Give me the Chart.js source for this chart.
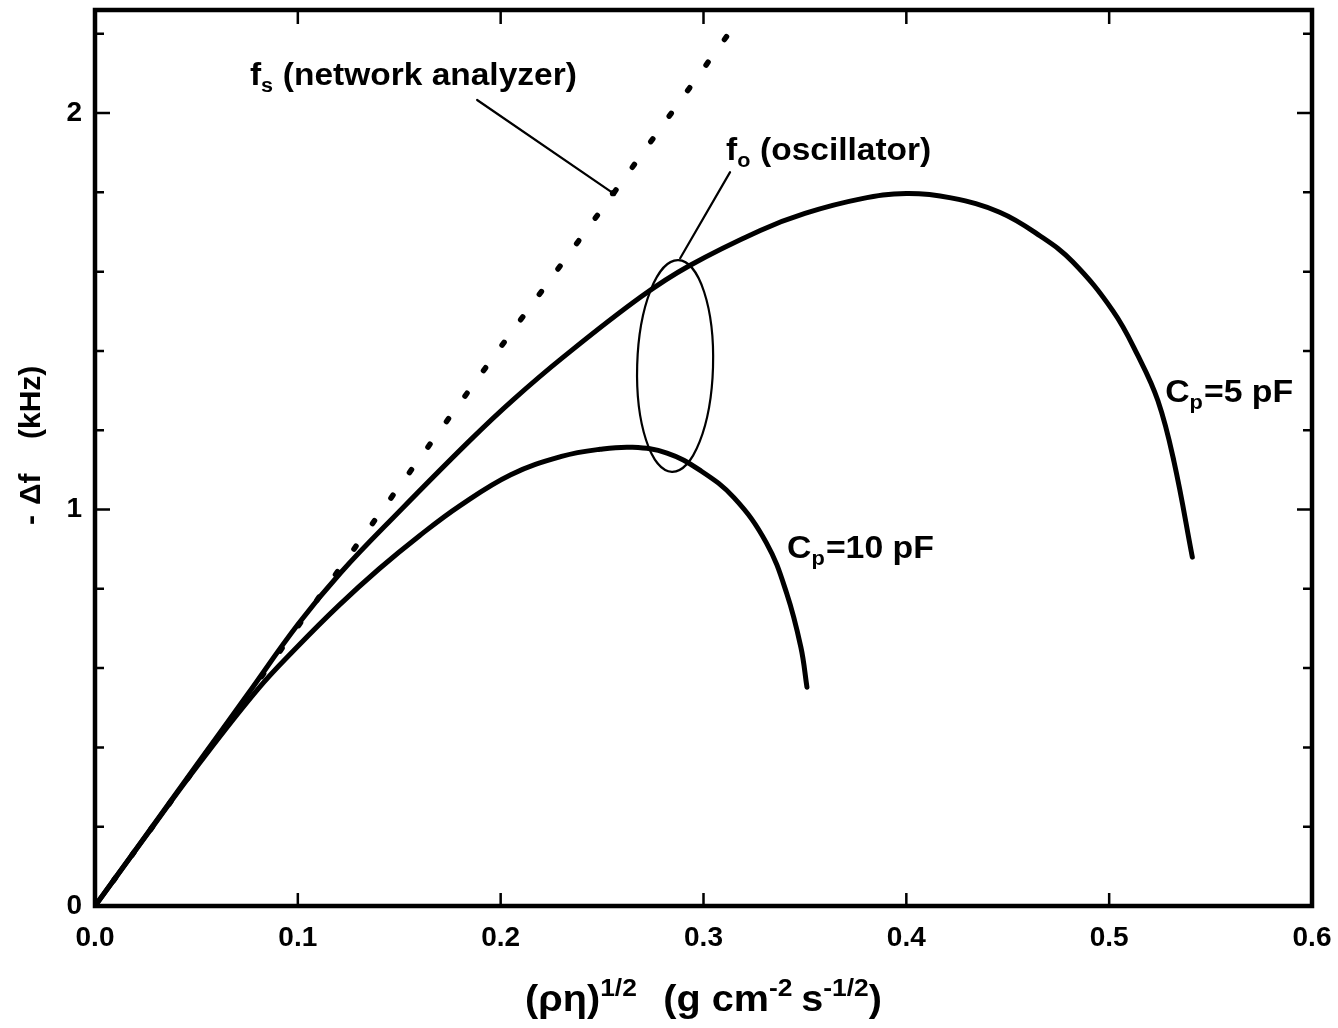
<!DOCTYPE html>
<html><head><meta charset="utf-8">
<script src="https://cdn.jsdelivr.net/npm/chart.js@4.4.1/dist/chart.umd.min.js"></script>
<style>html,body{margin:0;padding:0;background:#fff}canvas{display:block}</style>
</head><body>
<canvas id="c" width="1338" height="1028"></canvas>
<script>
// ---- data ----
const xTickLabels = ['0.0','0.1','0.2','0.3','0.4','0.5','0.6'];
const yTickLabels = ['0','1','2'];
const yMinorTicks = [0.2,0.4,0.6,0.8,1.2,1.4,1.6,1.8,2.2];
const yMajorTicks = [1,2];
const xFrameTicks = [0.1,0.2,0.3,0.4,0.5];

const fsX = [0, 0.05, 0.10, 0.15, 0.20, 0.256, 0.318];
const fsY = [0, 0.352, 0.705, 1.058, 1.41, 1.80, 2.24];

const cp5X = [0, 0.025, 0.05, 0.075, 0.10, 0.121, 0.15, 0.185, 0.206, 0.231, 0.269, 0.293, 0.328, 0.35, 0.377, 0.40, 0.422, 0.446, 0.466, 0.482, 0.502, 0.514, 0.524, 0.532, 0.541];
const cp5Y = [0, 0.177, 0.355, 0.532, 0.710, 0.84, 0.995, 1.175, 1.276, 1.385, 1.536, 1.615, 1.704, 1.747, 1.783, 1.797, 1.786, 1.750, 1.690, 1.625, 1.50, 1.39, 1.275, 1.12, 0.88];

const cp10X = [0, 0.025, 0.05, 0.08, 0.10, 0.12, 0.14, 0.16, 0.18, 0.205, 0.23, 0.249, 0.265, 0.282, 0.298, 0.315, 0.331, 0.341, 0.348, 0.351];
const cp10Y = [0, 0.176, 0.35, 0.545, 0.655, 0.757, 0.850, 0.934, 1.010, 1.088, 1.134, 1.152, 1.157, 1.1425, 1.10, 1.03, 0.916, 0.789, 0.653, 0.552];

// ---- annotations (data coordinates) ----
const fsLeader = [[0.1884, 2.033], [0.2554, 1.798]];
const foLeader = [[0.3131, 1.851], [0.2885, 1.634]];
const foEllipse = {cx: 0.2860, cy: 1.362, rx: 0.0187, ry: 0.267, rot: 0.03};

const FONT = '"Liberation Sans", Arial, Helvetica, sans-serif';

function pts(xs, ys){ return xs.map((x,i)=>({x:x, y:ys[i]})); }

function drawRich(ctx, x, y, parts, sx){
  sx = sx || 1;
  ctx.save();
  ctx.translate(x, y); ctx.scale(sx, 1);
  let cx = 0;
  for (const p of parts){
    ctx.font = 'bold ' + p.size + 'px ' + FONT;
    ctx.fillText(p.t, cx, (p.dy||0));
    cx += ctx.measureText(p.t).width + (p.gap||0);
  }
  ctx.restore();
  return cx * sx;
}
function richWidth(ctx, parts, sx){
  let w = 0;
  for (const p of parts){ ctx.font = 'bold ' + p.size + 'px ' + FONT; w += ctx.measureText(p.t).width + (p.gap||0); }
  return w * (sx || 1);
}

const decor = {
  id: 'decor',
  afterDraw(chart){
    const ctx = chart.ctx, a = chart.chartArea;
    const xs = chart.scales.x, ys = chart.scales.y;
    const X = v => xs.getPixelForValue(v), Y = v => ys.getPixelForValue(v);
    ctx.save();
    ctx.strokeStyle = '#000'; ctx.fillStyle = '#000';
    // frame
    ctx.lineWidth = 4.5; ctx.lineJoin = 'miter';
    ctx.strokeRect(a.left, a.top, a.right - a.left, a.bottom - a.top);
    // ticks
    ctx.lineWidth = 2.5;
    ctx.beginPath();
    for (const v of yMinorTicks){
      ctx.moveTo(a.left, Y(v)); ctx.lineTo(a.left + 9, Y(v));
      ctx.moveTo(a.right, Y(v)); ctx.lineTo(a.right - 9, Y(v));
    }
    for (const v of yMajorTicks){
      ctx.moveTo(a.left, Y(v)); ctx.lineTo(a.left + 15, Y(v));
      ctx.moveTo(a.right, Y(v)); ctx.lineTo(a.right - 15, Y(v));
    }
    for (const v of xFrameTicks){
      ctx.moveTo(X(v), a.bottom); ctx.lineTo(X(v), a.bottom - 13);
      ctx.moveTo(X(v), a.top); ctx.lineTo(X(v), a.top + 14);
    }
    ctx.stroke();
    // leaders
    ctx.lineWidth = 2.2; ctx.lineCap = 'round';
    ctx.beginPath();
    ctx.moveTo(X(fsLeader[0][0]), Y(fsLeader[0][1])); ctx.lineTo(X(fsLeader[1][0]), Y(fsLeader[1][1]));
    ctx.moveTo(X(foLeader[0][0]), Y(foLeader[0][1])); ctx.lineTo(X(foLeader[1][0]), Y(foLeader[1][1]));
    ctx.stroke();
    ctx.beginPath(); ctx.arc(X(fsLeader[1][0]), Y(fsLeader[1][1]), 3.2, 0, Math.PI*2); ctx.fill();
    // ellipse
    const ecx = X(foEllipse.cx), ecy = Y(foEllipse.cy);
    const erx = X(foEllipse.cx + foEllipse.rx) - ecx, ery = ecy - Y(foEllipse.cy + foEllipse.ry);
    ctx.beginPath(); ctx.ellipse(ecx, ecy, erx, ery, foEllipse.rot, 0, Math.PI*2); ctx.stroke();
    // labels
    ctx.textBaseline = 'alphabetic'; ctx.textAlign = 'left';
    drawRich(ctx, X(0.0764), Y(2.071), [{t:'f',size:31},{t:'s',size:20,dy:7,gap:9},{t:'(network analyzer)',size:31}], 1.08);
    drawRich(ctx, X(0.3111), Y(1.881), [{t:'f',size:31},{t:'o',size:20,dy:7,gap:9},{t:'(oscillator)',size:31}], 1.08);
    drawRich(ctx, X(0.3412), Y(0.878), [{t:'C',size:31},{t:'p',size:20,dy:7,gap:1},{t:'=10 pF',size:31}], 1.09);
    drawRich(ctx, X(0.5276), Y(1.271), [{t:'C',size:31},{t:'p',size:20,dy:7,gap:1},{t:'=5 pF',size:31}], 1.09);
    // x axis title
    const xt = [{t:'(\u03C1\u03B7)',size:36},{t:'1/2',size:24,dy:-15,gap:24},{t:'(g cm',size:36},{t:'-2',size:24,dy:-15,gap:8},{t:'s',size:36},{t:'-1/2',size:24,dy:-15},{t:')',size:36}];
    const w = richWidth(ctx, xt, 1.1);
    drawRich(ctx, (a.left + a.right)/2 - w/2, 1011, xt, 1.1);
    // y axis title
    ctx.translate(30, 445); ctx.rotate(-Math.PI/2);
    ctx.font = 'bold 30px ' + FONT;
    ctx.fillText('-', -80, 10);
    ctx.fillText('\u0394f', -60, 10);
    ctx.fillText('(kHz)', 6, 10);
    ctx.restore();
  }
};

const lineBase = {showLine:true, pointRadius:0, borderColor:'#000', backgroundColor:'#000', fill:false};

new Chart(document.getElementById('c'), {
  type: 'scatter',
  data: {
    datasets: [
      Object.assign({}, lineBase, {label:'fs (network analyzer)', data: pts(fsX, fsY), borderWidth:5.5, borderDash:[3.5, 28], borderCapStyle:'round', tension:0}),
      Object.assign({}, lineBase, {label:'Cp=5 pF', data: pts(cp5X, cp5Y), borderWidth:5, tension:0.4, borderCapStyle:'round', borderJoinStyle:'round'}),
      Object.assign({}, lineBase, {label:'Cp=10 pF', data: pts(cp10X, cp10Y), borderWidth:5, tension:0.4, borderCapStyle:'round', borderJoinStyle:'round'})
    ]
  },
  options: {
    responsive: false,
    animation: false,
    devicePixelRatio: 1,
    layout: {padding: {top: 10, right: 26, left: 0, bottom: 0}},
    plugins: {legend: {display:false}, tooltip: {enabled:false}},
    events: [],
    scales: {
      x: {
        type: 'linear', min: 0, max: 0.6,
        grid: {display:false, drawTicks:false},
        border: {display:false},
        ticks: {stepSize:0.1, autoSkip:false, maxRotation:0, padding:15, color:'#000',
          font:{family:FONT, size:28, weight:'bold'},
          callback: v => { const i = Math.round(v*10); return Math.abs(v*10 - i) < 1e-6 ? (xTickLabels[i] ?? '') : ''; }},
        afterFit: s => { s.height = 122; s.paddingLeft = 0; s.paddingRight = 0; s.paddingTop = 0; s.paddingBottom = 0; }
      },
      y: {
        type: 'linear', min: 0, max: 2.26,
        grid: {display:false, drawTicks:false},
        border: {display:false},
        ticks: {stepSize:0.2, includeBounds:false, autoSkip:false, padding:13, color:'#000',
          font:{family:FONT, size:28, weight:'bold'},
          callback: v => { const i = Math.round(v); return Math.abs(v - i) < 1e-6 ? (yTickLabels[i] ?? '') : ''; }},
        afterFit: s => { s.width = 95; s.paddingLeft = 0; s.paddingRight = 0; s.paddingTop = 0; s.paddingBottom = 0; }
      }
    }
  },
  plugins: [decor]
});
</script>
</body></html>
